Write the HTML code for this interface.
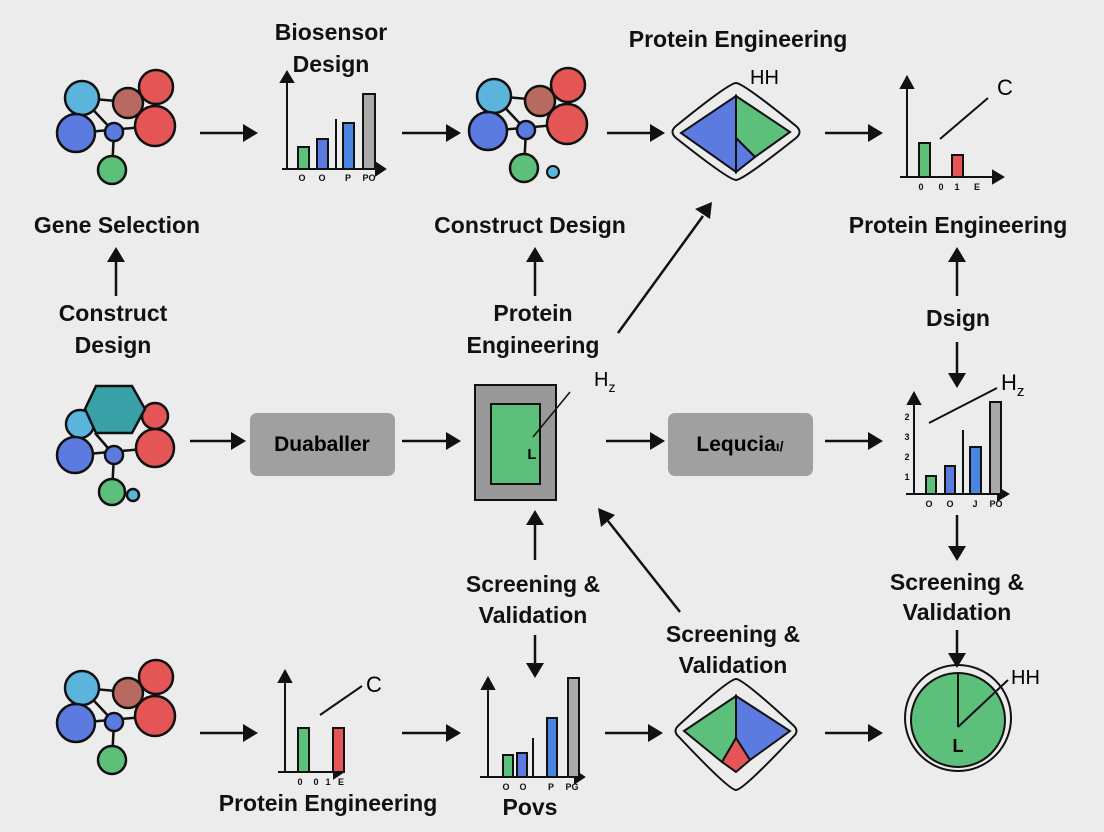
<!DOCTYPE html>
<html><head><meta charset="utf-8"><style>
html,body{margin:0;padding:0;background:#ececec;}
svg{display:block;}
text{font-family:"Liberation Sans",sans-serif;}
.t{font-size:23px;font-weight:bold;text-anchor:middle;fill:#111;}
.s{font-size:9px;font-weight:bold;text-anchor:middle;fill:#111;}
</style></head><body>
<svg width="1104" height="832" viewBox="0 0 1104 832" xmlns="http://www.w3.org/2000/svg">
<defs>
<marker id="a" markerWidth="10" markerHeight="10" refX="2" refY="5" orient="auto" markerUnits="userSpaceOnUse">
</marker>
<g id="mol">
<g stroke="#111" stroke-width="2.5">
<line x1="82" y1="98" x2="128" y2="102"/><line x1="82" y1="98" x2="114" y2="132"/>
<line x1="76" y1="133" x2="155" y2="126"/><line x1="114" y1="132" x2="112" y2="170"/>
<line x1="82" y1="98" x2="76" y2="133"/>
</g>
<g stroke="#111" stroke-width="2.5">
<circle cx="82" cy="98" r="17" fill="#5ab4dc"/>
<circle cx="128" cy="103" r="15" fill="#b86a60"/>
<circle cx="156" cy="87" r="17" fill="#e45555"/>
<circle cx="155" cy="126" r="20" fill="#e45555"/>
<circle cx="76" cy="133" r="19" fill="#5b7be0"/>
<circle cx="114" cy="132" r="9" fill="#5b7be0"/>
<circle cx="112" cy="170" r="14" fill="#5cbf7a"/>
</g>
</g>
</defs>
<rect width="1104" height="832" fill="#ececec"/>

<!-- molecules -->
<use href="#mol"/>
<use href="#mol" transform="translate(412,-2)"/>
<circle cx="553" cy="172" r="6" fill="#5ab4dc" stroke="#111" stroke-width="2"/>
<use href="#mol" transform="translate(0,590)"/>
<!-- middle-left molecule -->
<g stroke="#111" stroke-width="2.5">
<line x1="95" y1="433" x2="114" y2="455"/><line x1="76" y1="455" x2="155" y2="448"/><line x1="114" y1="455" x2="112" y2="492"/>
<circle cx="80" cy="424" r="14" fill="#5ab4dc"/>
<circle cx="155" cy="416" r="13" fill="#e45555"/>
<circle cx="155" cy="448" r="19" fill="#e45555"/>
<circle cx="75" cy="455" r="18" fill="#5b7be0"/>
<circle cx="114" cy="455" r="9" fill="#5b7be0"/>
<circle cx="112" cy="492" r="13" fill="#5cbf7a"/>
<circle cx="133" cy="495" r="6" fill="#5ab4dc"/>
<polygon points="96,386 132,386 145,409 132,433 96,433 85,409" fill="#3aa0a8"/>
</g>

<!-- chart 1 top -->
<g stroke="#111" stroke-width="2">
<line x1="287" y1="170" x2="287" y2="80"/><polygon points="281,82 293,82 287,72" fill="#111"/>
<line x1="282" y1="169" x2="378" y2="169"/><polygon points="376,163 376,175 385,169" fill="#111"/>
<rect x="298" y="147" width="11" height="22" fill="#5cbf7a"/>
<rect x="317" y="139" width="11" height="30" fill="#5b7be0"/>
<line x1="336" y1="169" x2="336" y2="119"/>
<rect x="343" y="123" width="11" height="46" fill="#4a86e0"/>
<rect x="363" y="94" width="12" height="75" fill="#aaa"/>
</g>
<text class="s" x="302" y="181">O</text><text class="s" x="322" y="181">O</text><text class="s" x="348" y="181">P</text><text class="s" x="369" y="181">PO</text>

<!-- chart top right -->
<g stroke="#111" stroke-width="2">
<line x1="907" y1="178" x2="907" y2="86"/><polygon points="901,88 913,88 907,77" fill="#111"/>
<line x1="900" y1="177" x2="995" y2="177"/><polygon points="993,171 993,183 1003,177" fill="#111"/>
<rect x="919" y="143" width="11" height="34" fill="#5cbf7a"/>
<rect x="952" y="155" width="11" height="22" fill="#e45555"/>
<line x1="940" y1="139" x2="988" y2="98"/>
</g>
<text x="997" y="95" style="font-size:22px">C</text>
<text class="s" x="921" y="190">0</text><text class="s" x="941" y="190">0</text><text class="s" x="957" y="190">1</text><text class="s" x="977" y="190">E</text>

<!-- chart middle right -->
<g stroke="#111" stroke-width="2">
<line x1="914" y1="495" x2="914" y2="402"/><polygon points="908,404 920,404 914,393" fill="#111"/>
<line x1="906" y1="494" x2="1000" y2="494"/><polygon points="998,488 998,500 1008,494" fill="#111"/>
<rect x="926" y="476" width="10" height="18" fill="#5cbf7a"/>
<rect x="945" y="466" width="10" height="28" fill="#5b7be0"/>
<line x1="963" y1="494" x2="963" y2="430"/>
<rect x="970" y="447" width="11" height="47" fill="#4a86e0"/>
<rect x="990" y="402" width="11" height="92" fill="#aaa"/>
<line x1="929" y1="423" x2="997" y2="388"/>
</g>
<text x="1001" y="390" style="font-size:22px">H<tspan style="font-size:15px" dy="6">z</tspan></text>
<g class="s"><text class="s" x="907" y="420">2</text><text class="s" x="907" y="440">3</text><text class="s" x="907" y="460">2</text><text class="s" x="907" y="480">1</text>
<text class="s" x="929" y="507">O</text><text class="s" x="950" y="507">O</text><text class="s" x="975" y="507">J</text><text class="s" x="996" y="507">PO</text></g>

<!-- chart bottom 1 -->
<g stroke="#111" stroke-width="2">
<line x1="285" y1="773" x2="285" y2="680"/><polygon points="279,682 291,682 285,671" fill="#111"/>
<line x1="278" y1="772" x2="330" y2="772"/><line x1="278" y1="772" x2="332" y2="772"/>
<line x1="278" y1="772" x2="333" y2="772"/>
<line x1="278" y1="772" x2="335" y2="772"/>
<polygon points="334,766 334,778 343,772" fill="#111"/>
<rect x="298" y="728" width="11" height="44" fill="#5cbf7a"/>
<rect x="333" y="728" width="11" height="44" fill="#e45555"/>
<line x1="320" y1="715" x2="362" y2="686"/>
</g>
<text x="366" y="692" style="font-size:22px">C</text>
<text class="s" x="300" y="785">0</text><text class="s" x="316" y="785">0</text><text class="s" x="328" y="785">1</text><text class="s" x="341" y="785">E</text>

<!-- chart bottom 2 Povs -->
<g stroke="#111" stroke-width="2">
<line x1="488" y1="778" x2="488" y2="687"/><polygon points="482,689 494,689 488,678" fill="#111"/>
<line x1="480" y1="777" x2="577" y2="777"/><polygon points="575,771 575,783 584,777" fill="#111"/>
<rect x="503" y="755" width="10" height="22" fill="#5cbf7a"/>
<rect x="517" y="753" width="10" height="24" fill="#5b7be0"/>
<line x1="533" y1="777" x2="533" y2="738"/>
<rect x="547" y="718" width="10" height="59" fill="#4a86e0"/>
<rect x="568" y="678" width="11" height="99" fill="#aaa"/>
</g>
<text class="s" x="506" y="790">O</text><text class="s" x="523" y="790">O</text><text class="s" x="551" y="790">P</text><text class="s" x="572" y="790">PG</text>

<!-- diamond top -->
<path d="M736,83 Q743,83 796,126 Q803,132 796,138 Q743,180 736,180 Q729,180 676,138 Q669,132 676,126 Q729,83 736,83 Z" fill="#ececec" stroke="#111" stroke-width="2"/>
<polygon points="681,133 736,96 736,172" fill="#5b7be0" stroke="#111" stroke-width="2"/>
<polygon points="736,96 790,132 755,157 736,138" fill="#5cbf7a" stroke="#111" stroke-width="2"/>
<polygon points="736,138 755,157 736,172" fill="#5b7be0" stroke="#111" stroke-width="2"/>
<text x="750" y="84" style="font-size:20px">HH</text>

<!-- diamond bottom -->
<path d="M736,679 Q743,679 793,725 Q800,731 793,737 Q743,790 736,790 Q729,790 679,737 Q672,731 679,725 Q729,679 736,679 Z" fill="#ececec" stroke="#111" stroke-width="2"/>
<polygon points="684,731 736,696 736,738 722,762" fill="#5cbf7a" stroke="#111" stroke-width="2"/>
<polygon points="736,696 790,731 750,760 736,738" fill="#5b7be0" stroke="#111" stroke-width="2"/>
<polygon points="736,738 750,760 736,772 722,762" fill="#e45555" stroke="#111" stroke-width="2"/>

<!-- center square -->
<rect x="475" y="385" width="81" height="115" fill="#999" stroke="#111" stroke-width="2"/>
<rect x="491" y="404" width="49" height="80" fill="#5cbf7a" stroke="#111" stroke-width="2"/>
<line x1="533" y1="437" x2="570" y2="392" stroke="#111" stroke-width="1.5"/>
<text x="594" y="386" style="font-size:20px">H<tspan style="font-size:14px" dy="6">z</tspan></text>
<text x="532" y="459" style="font-size:15px;font-weight:bold;text-anchor:middle">L</text>

<!-- circle bottom right -->
<circle cx="958" cy="718" r="53" fill="#ececec" stroke="#111" stroke-width="2"/>
<circle cx="958" cy="720" r="47" fill="#5cbf7a" stroke="#111" stroke-width="2"/>
<line x1="958" y1="673" x2="958" y2="727" stroke="#111" stroke-width="2"/>
<line x1="958" y1="727" x2="1008" y2="680" stroke="#111" stroke-width="2"/>
<text x="1011" y="684" style="font-size:20px">HH</text>
<text x="958" y="752" style="font-size:18px;font-weight:bold;text-anchor:middle">L</text>

<!-- boxes -->
<rect x="250" y="413" width="145" height="63" rx="7" fill="#a0a0a0"/>
<text x="322" y="451" style="font-size:21px;font-weight:bold;text-anchor:middle">Duaballer</text>
<rect x="668" y="413" width="145" height="63" rx="7" fill="#a0a0a0"/>
<text x="740" y="451" style="font-size:21px;font-weight:bold;text-anchor:middle">Lequcia<tspan style="font-size:14px">ı/</tspan></text>

<!-- arrows -->
<g stroke="#111" stroke-width="2.5" fill="#111">
<line x1="200" y1="133" x2="245" y2="133"/><polygon points="243,124 243,142 258,133" stroke="none"/>
<line x1="402" y1="133" x2="448" y2="133"/><polygon points="446,124 446,142 461,133" stroke="none"/>
<line x1="607" y1="133" x2="652" y2="133"/><polygon points="650,124 650,142 665,133" stroke="none"/>
<line x1="825" y1="133" x2="870" y2="133"/><polygon points="868,124 868,142 883,133" stroke="none"/>
<line x1="190" y1="441" x2="233" y2="441"/><polygon points="231,432 231,450 246,441" stroke="none"/>
<line x1="402" y1="441" x2="448" y2="441"/><polygon points="446,432 446,450 461,441" stroke="none"/>
<line x1="606" y1="441" x2="652" y2="441"/><polygon points="650,432 650,450 665,441" stroke="none"/>
<line x1="825" y1="441" x2="870" y2="441"/><polygon points="868,432 868,450 883,441" stroke="none"/>
<line x1="200" y1="733" x2="245" y2="733"/><polygon points="243,724 243,742 258,733" stroke="none"/>
<line x1="402" y1="733" x2="448" y2="733"/><polygon points="446,724 446,742 461,733" stroke="none"/>
<line x1="605" y1="733" x2="650" y2="733"/><polygon points="648,724 648,742 663,733" stroke="none"/>
<line x1="825" y1="733" x2="870" y2="733"/><polygon points="868,724 868,742 883,733" stroke="none"/>
<!-- verticals -->
<line x1="116" y1="296" x2="116" y2="260"/><polygon points="107,262 125,262 116,247" stroke="none"/>
<line x1="535" y1="296" x2="535" y2="260"/><polygon points="526,262 544,262 535,247" stroke="none"/>
<line x1="957" y1="296" x2="957" y2="260"/><polygon points="948,262 966,262 957,247" stroke="none"/>
<line x1="957" y1="342" x2="957" y2="375"/><polygon points="948,373 966,373 957,388" stroke="none"/>
<line x1="535" y1="560" x2="535" y2="523"/><polygon points="526,525 544,525 535,510" stroke="none"/>
<line x1="535" y1="635" x2="535" y2="665"/><polygon points="526,663 544,663 535,678" stroke="none"/>
<line x1="957" y1="515" x2="957" y2="548"/><polygon points="948,546 966,546 957,561" stroke="none"/>
<line x1="957" y1="630" x2="957" y2="655"/><polygon points="948,653 966,653 957,668" stroke="none"/>
<line x1="618" y1="333" x2="703" y2="216"/><polygon points="695,209 710,219 712,202" stroke="none"/>
<line x1="680" y1="612" x2="608" y2="521"/><polygon points="601,527 615,515 598,508" stroke="none"/>
</g>

<!-- labels -->
<text class="t" x="331" y="40">Biosensor</text>
<text class="t" x="331" y="72">Design</text>
<text class="t" x="738" y="47">Protein Engineering</text>
<text class="t" x="117" y="233">Gene Selection</text>
<text class="t" x="530" y="233">Construct Design</text>
<text class="t" x="958" y="233">Protein Engineering</text>
<text class="t" x="113" y="321">Construct</text>
<text class="t" x="113" y="353">Design</text>
<text class="t" x="533" y="321">Protein</text>
<text class="t" x="533" y="353">Engineering</text>
<text class="t" x="958" y="326">Dsign</text>
<text class="t" x="533" y="592">Screening &amp;</text>
<text class="t" x="533" y="623">Validation</text>
<text class="t" x="733" y="642">Screening &amp;</text>
<text class="t" x="733" y="673">Validation</text>
<text class="t" x="957" y="590">Screening &amp;</text>
<text class="t" x="957" y="620">Validation</text>
<text class="t" x="328" y="811">Protein Engineering</text>
<text class="t" x="530" y="815">Povs</text>
</svg>
</body></html>
